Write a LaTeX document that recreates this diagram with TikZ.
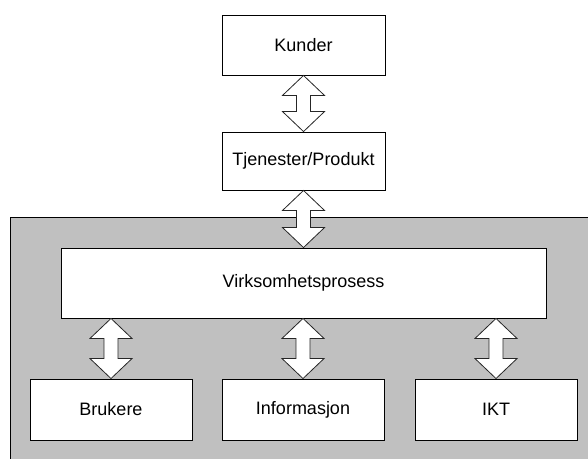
\documentclass[tikz,border=0pt]{standalone}
\usepackage{fontspec}
\setmainfont{Liberation Sans}
\usetikzlibrary{calc}
\definecolor{panelgray}{RGB}{192,192,192}
\tikzset{
  box/.style={draw=black, fill=white, line width=0.9pt, inner sep=0pt,
    font=\fontsize{18}{21}\selectfont},
  arr/.style={draw=black!85, fill=white, line width=0.8pt, line join=miter},
}
\newcommand\dblarrow[2]{%
  \draw[arr] (#1) -- ($(#1)+(21,20)$) -- ($(#1)+(7,20)$) -- ($(#2)+(7,-20)$)
    -- ($(#2)+(21,-20)$) -- (#2) -- ($(#2)+(-21,-20)$) -- ($(#2)+(-7,-20)$)
    -- ($(#1)+(-7,20)$) -- ($(#1)+(-21,20)$) -- cycle;}
\begin{document}
\begin{tikzpicture}[x=1pt,y=-1pt]
\useasboundingbox (0,0) rectangle (588,458);
\clip (0,0) rectangle (588,458);
\fill[white] (0,0) rectangle (588,458);
\draw[fill=panelgray, line width=0.9pt] (10,217) rectangle (600,470);
\node[box, minimum width=163pt, minimum height=60pt] (kun) at (303.5,45) {Kunder};
\node[box, minimum width=163pt, minimum height=58pt] (tje) at (303.5,161) {Tjenester/Produkt};
\node[box, minimum width=485pt, minimum height=70pt] (vir) at (303.5,283) {Virksomhetsprosess};
\node[box, minimum width=162pt, minimum height=61pt] (bru) at (111,409.5) {Brukere};
\node[box, minimum width=162pt, minimum height=61pt] (inf) at (303,409.5) {Informasjon};
\node[box, minimum width=162pt, minimum height=61pt] (ikt) at (496,409.5) {IKT};
\coordinate (a1) at (kun.south);
\coordinate (b1) at (tje.north);
\dblarrow{a1}{b1}
\coordinate (a2) at (tje.south);
\coordinate (b2) at (vir.north -| tje.south);
\dblarrow{a2}{b2}
\coordinate (a3) at (vir.south -| bru.north);
\coordinate (b3) at (bru.north);
\dblarrow{a3}{b3}
\coordinate (a4) at (vir.south -| inf.north);
\coordinate (b4) at (inf.north);
\dblarrow{a4}{b4}
\coordinate (a5) at (vir.south -| ikt.north);
\coordinate (b5) at (ikt.north);
\dblarrow{a5}{b5}
\end{tikzpicture}
\end{document}
